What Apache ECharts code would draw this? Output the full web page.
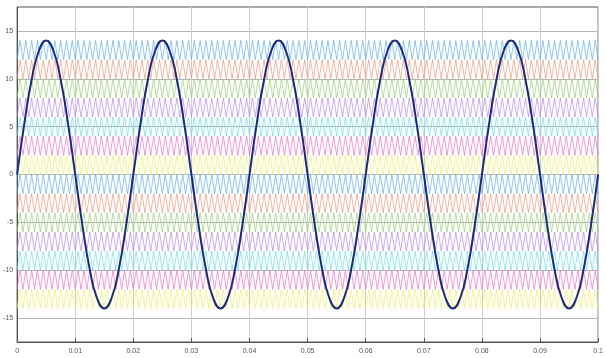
<!DOCTYPE html>
<html>
<head>
<meta charset="utf-8">
<script src="https://cdn.jsdelivr.net/npm/echarts@6/dist/echarts.min.js"></script>
<style>
	html, body { margin: 0; padding: 0; background: #fff; }
	#chart { width: 606px; height: 358px; }
</style>
</head>
<body>
<div id="chart"></div>
<script>
// reference sine, sampled every 0.00125 s from 0 to 0.1 s
const sineStep = 0.00125;
const sineY = [
	0, 5.36, 9.9, 12.93, 14, 12.93, 9.9, 5.36, 0, -5.36, -9.9, -12.93, -14, -12.93, -9.9, -5.36,
	0, 5.36, 9.9, 12.93, 14, 12.93, 9.9, 5.36, 0, -5.36, -9.9, -12.93, -14, -12.93, -9.9, -5.36,
	0, 5.36, 9.9, 12.93, 14, 12.93, 9.9, 5.36, 0, -5.36, -9.9, -12.93, -14, -12.93, -9.9, -5.36,
	0, 5.36, 9.9, 12.93, 14, 12.93, 9.9, 5.36, 0, -5.36, -9.9, -12.93, -14, -12.93, -9.9, -5.36,
	0, 5.36, 9.9, 12.93, 14, 12.93, 9.9, 5.36, 0, -5.36, -9.9, -12.93, -14, -12.93, -9.9, -5.36,
	0
];

// triangular carriers: one band of 2 units each, top to bottom
const bandLow = [12, 10, 8, 6, 4, 2, 0, -2, -4, -6, -8, -10, -12, -14];
const bandHeight = 2;
const carrierPeriod = 0.001;
const carrierColors = ['#5aaee6', '#ee9473', '#92cf6e', '#b883e6', '#5fe0ec', '#ea6cc8', '#eeee5c'];

const xTicks = [0, 0.01, 0.02, 0.03, 0.04, 0.05, 0.06, 0.07, 0.08, 0.09, 0.1];
const yTicks = [-15, -10, -5, 0, 5, 10, 15];

const chart = echarts.init(document.getElementById('chart'));

const series = [];
const halfSteps = Math.round(0.1 / (carrierPeriod / 2));
bandLow.forEach(function (low, b) {
	const pts = [];
	for (let i = 0; i <= halfSteps; i++) {
		pts.push([i * carrierPeriod / 2, i % 2 ? low + bandHeight : low]);
	}
	series.push({
		type: 'line',
		data: pts,
		symbol: 'none',
		silent: true,
		lineStyle: { width: 0.9, color: carrierColors[b % carrierColors.length], opacity: 0.75 },
		z: 2
	});
});

series.push({
	type: 'line',
	data: sineY.map(function (v, i) { return [i * sineStep, v]; }),
	symbol: 'none',
	smooth: true,
	lineStyle: { width: 2, color: '#1c2a78' },
	z: 5
});

const option = {
	animation: false,
	backgroundColor: '#fff',
	grid: {
		left: 16, right: 7, top: 7, bottom: 16,
		show: true,
		borderColor: '#555',
		borderWidth: 1
	},
	xAxis: {
		type: 'value',
		min: 0,
		max: 0.1,
		interval: 0.01,
		axisLine: { show: true, onZero: false, lineStyle: { color: '#555' } },
		axisTick: { show: true, inside: true, length: 4, lineStyle: { color: '#555' } },
		axisLabel: {
			fontSize: 7,
			color: '#555',
			margin: 6,
			fontFamily: 'Liberation Sans',
			formatter: function (v) { return String(+v.toFixed(2)); }
		},
		splitLine: { show: true, lineStyle: { color: '#cfcfcf', width: 1 } }
	},
	yAxis: {
		type: 'value',
		min: -17.5,
		max: 17.5,
		interval: 2.5,
		axisLine: { show: true, onZero: false, lineStyle: { color: '#555' } },
		axisTick: { show: false },
		axisLabel: {
			fontSize: 7,
			color: '#555',
			margin: 4,
			fontFamily: 'Liberation Sans',
			formatter: function (v) { return yTicks.indexOf(v) >= 0 ? String(v) : ''; }
		},
		splitLine: { show: true, lineStyle: { color: ['rgba(0,0,0,0)', '#b5b5b5'], width: 1 } }
	},
	series: series
};
chart.setOption(option);
</script>
</body>
</html>
